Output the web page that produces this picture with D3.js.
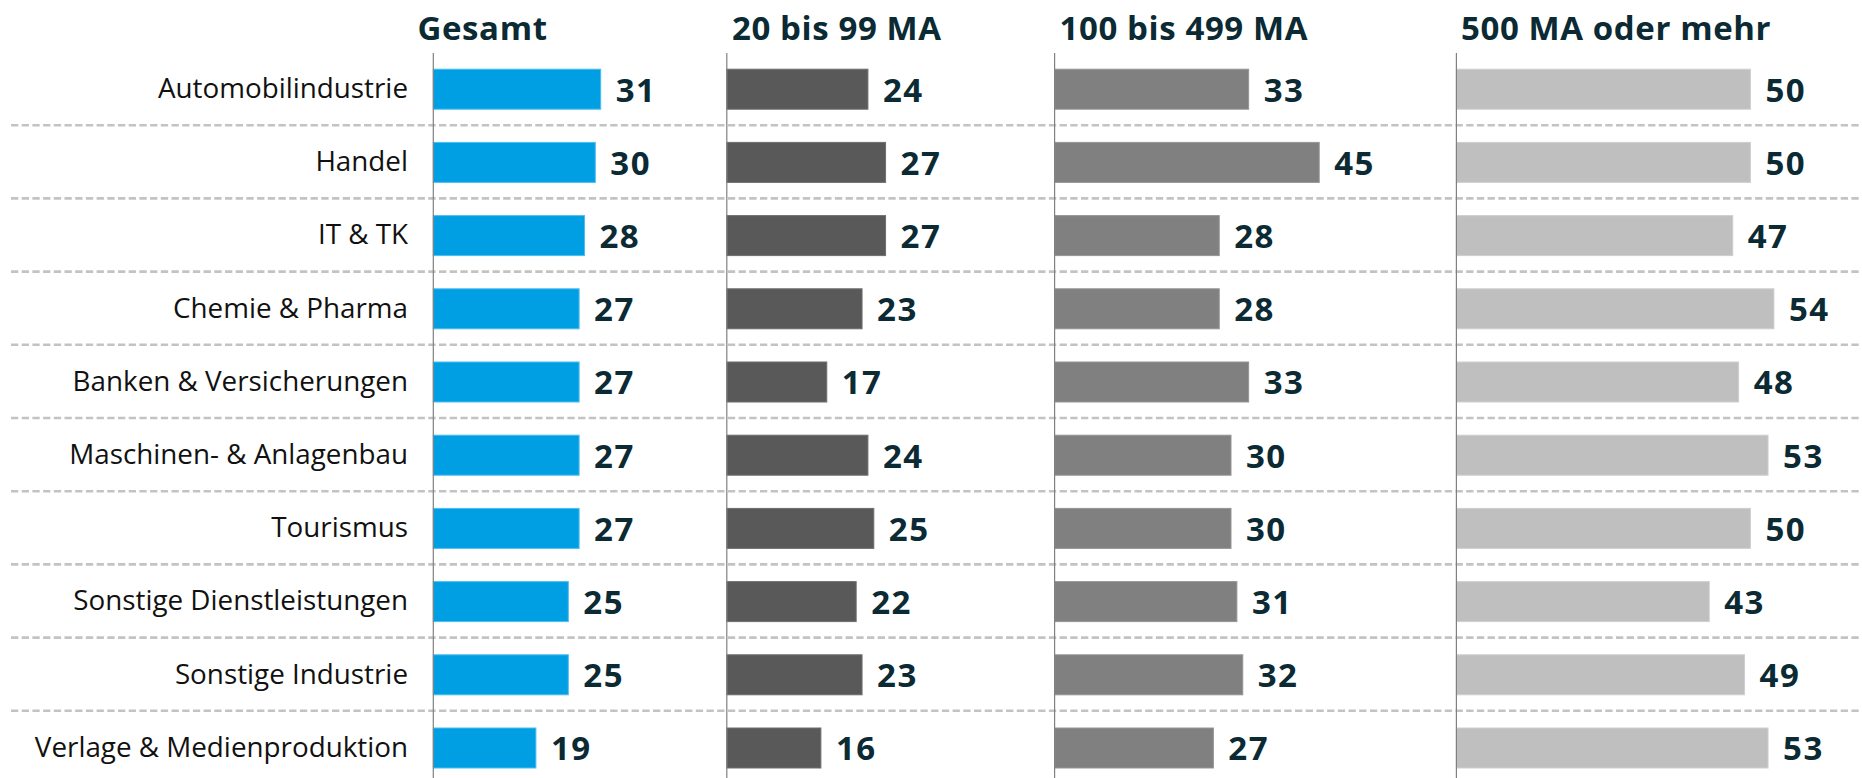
<!DOCTYPE html>
<html>
<head>
<meta charset="utf-8">
<script src="https://cdn.jsdelivr.net/npm/d3@7/dist/d3.min.js"></script>
<style>
  html, body { margin: 0; padding: 0; background: #ffffff; }
  svg { display: block; }
</style>
</head>
<body>
<svg id="chart" width="1862" height="778"></svg>
<script>
const categories = [
  "Automobilindustrie",
  "Handel",
  "IT & TK",
  "Chemie & Pharma",
  "Banken & Versicherungen",
  "Maschinen- & Anlagenbau",
  "Tourismus",
  "Sonstige Dienstleistungen",
  "Sonstige Industrie",
  "Verlage & Medienproduktion"
];
const seriesNames = ["Gesamt", "20 bis 99 MA", "100 bis 499 MA", "500 MA oder mehr"];
const gesamt    = [31, 30, 28, 27, 27, 27, 27, 25, 25, 19];
const ma20to99  = [24, 27, 27, 23, 17, 24, 25, 22, 23, 16];
const ma100to499 = [33, 45, 28, 28, 33, 30, 30, 31, 32, 27];
const ma500plus = [50, 50, 47, 54, 48, 53, 50, 43, 49, 53];

const seriesValues = [gesamt, ma20to99, ma100to499, ma500plus];
const colors = ["#009fe3", "#595959", "#808080", "#bfbfbf"];
const strokes = ["#4dbdf0", "#6e6e6e", "#959595", "#cfcfcf"];

// layout
const W = 1862, H = 778;
const panelX = [433.3, 726.8, 1054.6, 1456.4];
const panelLen = [270, 294, 294, 294]; // pixel length for value 50
const headerX = [417.5, 732, 1059.5, 1461];
const svg = d3.select("#chart");

const y = d3.scaleBand().domain(categories).range([52.6, 52.6 + 73.2 * categories.length]).padding(0);
const barH = 40;

const labelFont = "'Open Sans', 'DejaVu Sans', sans-serif";

// dashed separators
svg.append("g").selectAll("line")
  .data(categories.slice(1))
  .join("line")
  .attr("x1", 11).attr("x2", W)
  .attr("y1", d => y(d) - 0.6).attr("y2", d => y(d) - 0.6)
  .attr("stroke", "#c3c3c3")
  .attr("stroke-width", 2.6)
  .attr("stroke-dasharray", "7.3,3.4");

// category labels
svg.append("g").selectAll("text")
  .data(categories)
  .join("text")
  .attr("x", 408)
  .attr("y", d => y(d) + y.bandwidth() / 2 + 8.8)
  .attr("text-anchor", "end")
  .attr("font-family", labelFont)
  .attr("font-size", 27.8)
  .attr("fill", "#111111")
  .text(d => d);

seriesValues.forEach((vals, si) => {
  const x = d3.scaleLinear().domain([0, 50]).range([panelX[si], panelX[si] + panelLen[si]]);
  const g = svg.append("g");

  // header
  g.append("text")
    .attr("x", headerX[si])
    .attr("y", 40)
    .attr("font-family", labelFont)
    .attr("font-weight", 700)
    .attr("font-size", 33)
    .attr("letter-spacing", 0.6)
    .attr("fill", "#0b2a33")
    .text(seriesNames[si]);

  // bars
  g.selectAll("rect")
    .data(vals)
    .join("rect")
    .attr("x", x(0))
    .attr("y", (d, i) => y(categories[i]) + (y.bandwidth() - barH) / 2)
    .attr("width", d => x(d) - x(0))
    .attr("height", barH)
    .attr("fill", colors[si])
    .attr("stroke", strokes[si])
    .attr("stroke-width", 1);

  // values
  g.selectAll("text.val")
    .data(vals)
    .join("text")
    .attr("class", "val")
    .attr("x", d => x(d) + 15)
    .attr("y", (d, i) => y(categories[i]) + y.bandwidth() / 2 + 12.4)
    .attr("font-family", labelFont)
    .attr("font-weight", 700)
    .attr("font-size", 33)
    .attr("letter-spacing", 1.5)
    .attr("fill", "#0b2a33")
    .text(d => d);

  // vertical axis line
  g.append("line")
    .attr("x1", x(0)).attr("x2", x(0))
    .attr("y1", 53).attr("y2", H)
    .attr("stroke", "#808080")
    .attr("stroke-width", 1.2);
});
</script>
</body>
</html>
